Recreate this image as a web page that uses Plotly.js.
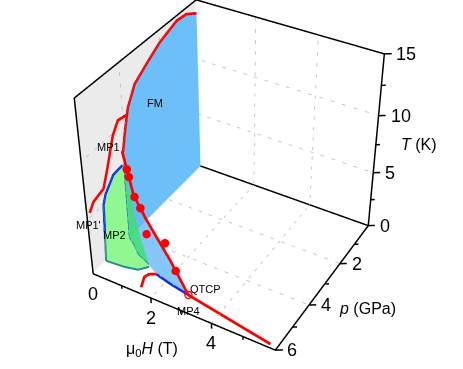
<!DOCTYPE html>
<html>
<head>
<meta charset="utf-8">
<script src="https://cdn.plot.ly/plotly-3.0.1.min.js"></script>
<style>html,body{margin:0;padding:0;background:#fff;overflow:hidden;width:463px;height:369px}
#myPlot{position:absolute;left:-262px;top:-291px}</style>
</head>
<body>
<div id="myPlot"></div>
<script>
const plot_w = 1000, plot_h = 924;
const hMax = 6, pMax = 6, tMax = 15;

// tick values
const hTicks = [0, 1, 2, 3, 4, 5];
const hMajor = [0, 2, 4];
const pTicks = [0, 1, 2, 3, 4, 5, 6];
const pMajor = [2, 4, 6];
const tTicks = [0, 2.5, 5, 7.5, 10, 12.5, 15];
const tMajor = [0, 5, 10, 15];
const hGrid = [2, 4], pGrid = [2, 4], tGrid = [5, 10];

// FM dome, on the H=0 wall
const fmP = [0, 0.56, 1.1, 2, 2.7, 3.34, 3.74, 3.95, 4.11];
const fmT = [13.9, 14.5, 14.6, 14, 13.2, 12.4, 11, 9.4, 7.9];

// MP1 branch, also on the wall
const mp1P = [3.76, 4.24, 4.52, 4.71, 4.91, 5.16, 5.66, 5.87];
const mp1T = [10.5, 10.7, 9.9, 8.8, 7.6, 6.3, 6.0, 5.4];

// first order wing: floor curve and top edge
const wingH = [0, 0.65, 1.18, 1.59, 2.2, 2.85];
const wingP = [4.15, 4.64, 4.86, 5.09, 5.24, 5.36];
const wingT = [7.9, 5.5, 4.3, 3.9, 2.3, 0];

// green part on the wall
const mp2P = [4.2, 4.66, 5.09, 5.22, 5.28, 5.35];
const mp2T = [6.8, 6.7, 5.7, 5, 2.65, 0];

// green part, floor and wing
const gOutH = [0, 0.6, 1.03, 1.24];
const gOutP = [5.35, 5.3, 5.2, 4.93];
const gInH = [0, 0.3, 0.65, 1.18];
const gInP = [4.15, 4.35, 4.64, 4.86];
const gInT = [6.8, 5, 3.3, 0];

// small red curve on the floor
const lowH = [1.52, 1.36, 1.41, 1.59];
const lowP = [5.77, 5.37, 5.2, 5.09];

// high field line
const highH = [2.85, 5.78];
const highP = [5.36, 5.87];

// measured points
const dotH = [0.26, 0.37, 0.68, 0.94, 1.2, 2.0, 2.4];
const dotP = [4.35, 4.43, 4.65, 4.76, 4.9, 5.16, 5.28];
const dotT = [6.94, 6.5, 5.4, 4.85, 3, 3.5, 1.6];

// text inside the box: text, H, p, T
const noteText = ["FM", "MP1", "MP1'", "MP2", "QTCP", "MP4"];
const noteH = [0, 0, 0, 0, 3.15, 3.2];
const noteP = [2.4, 4.78, 5.96, 4.83, 4.89, 5.9];
const noteT = [9.5, 9.3, 4.5, 1.5, 0, 0];

const font_name = "Liberation Sans";
const zeros = (a) => a.map(() => 0);
const red = "#ff0000", blue = "#0a2cf0", teal = "#2a8a9a";

function path(x, y, z, color, width, dash) {
    return {
        type: "scatter3d", mode: "lines", x: x, y: y, z: z,
        line: { color: color, width: width, dash: dash || "solid" },
        hoverinfo: "skip", showlegend: false
    };
}

// strip of triangles between two curves with the same number of points
function ribbon(x1, y1, z1, x2, y2, z2, color, opacity) {
    const n = x1.length, i = [], j = [], k = [];
    for (let m = 0; m < n - 1; m++) {
        i.push(m, m + 1);
        j.push(m + 1, n + m + 1);
        k.push(n + m, n + m);
    }
    return {
        type: "mesh3d", x: x1.concat(x2), y: y1.concat(y2), z: z1.concat(z2), i: i, j: j, k: k,
        color: color, opacity: opacity, flatshading: true, hoverinfo: "skip", showscale: false,
        lighting: { ambient: 1, diffuse: 0, specular: 0, roughness: 1, fresnel: 0 }
    };
}

// grid, dotted, built from the tick arrays
function gridLines() {
    const x = [], y = [], z = [];
    const add = (a, b, c, d, e, f) => { x.push(a, d, null); y.push(b, e, null); z.push(c, f, null); };
    hGrid.forEach(h => { add(h, 0, 0, h, pMax, 0); add(h, 0, 0, h, 0, tMax); });
    pGrid.forEach(p => { add(0, p, 0, hMax, p, 0); add(0, p, 0, 0, p, tMax); });
    tGrid.forEach(t => { add(0, 0, t, hMax, 0, t); add(0, 0, t, 0, pMax, t); });
    return path(x, y, z, "#b8b8b8", 1.5, "dot");
}

// tick marks: T and p ticks point right on the screen, H ticks point down
function tickLines() {
    const x = [], y = [], z = [];
    const add = (a, b, c, d, e, f) => { x.push(a, d, null); y.push(b, e, null); z.push(c, f, null); };
    tTicks.forEach(t => { const s = tMajor.includes(t) ? 1 : 0.6; add(hMax, 0, t, hMax + 0.17 * s, -0.11 * s, t); });
    pTicks.forEach(p => { const s = pMajor.includes(p) || p == 0 ? 1 : 0.6; add(hMax, p, 0, hMax + 0.17 * s, p - 0.11 * s, 0); });
    hTicks.forEach(h => { const s = hMajor.includes(h) ? 1 : 0.6; if (h > 0) add(h, pMax, 0, h, pMax, -0.5 * s); });
    return path(x, y, z, "#000", 3);
}

const edgeX = [0, hMax, hMax, hMax, null, 0, hMax, null, 0, 0, 0, null, 0, 0, hMax];
const edgeY = [pMax, pMax, 0, 0, null, 0, 0, null, pMax, pMax, 0, null, 0, 0, 0];
const edgeZ = [0, 0, 0, tMax, null, 0, 0, null, 0, tMax, tMax, null, tMax, tMax, tMax];

const traces = [
    ribbon([-0.03, -0.03], [0, pMax], [0, 0], [-0.03, -0.03], [0, pMax], [tMax, tMax], "#ebebeb", 1),
    gridLines(),
    ribbon(zeros(fmP), fmP, fmT, zeros(fmP), fmP, zeros(fmP), "#6cbff9", 1),
    ribbon(wingH, wingP, wingT, wingH, wingP, zeros(wingH), "#66b8fa", 0.8),
    ribbon(zeros(mp2P), mp2P, mp2T, zeros(mp2P), mp2P.map(() => 4.15), mp2T, "#90f890", 1),
    ribbon(gOutH, gOutP, zeros(gOutH), gInH, gInP, zeros(gInH), "#90f890", 1),
    ribbon(gInH, gInP, gInT, gInH, gInP, zeros(gInH), "#40e070", 0.85),
    path([0, 0], [4.15, 4.15], [6.8, 0], teal, 3),
    path(gInH, gInP, zeros(gInH), teal, 4),
    path(gOutH, gOutP, zeros(gOutH), teal, 4),
    path(mp2P.slice(3).map(() => 0), mp2P.slice(3), mp2T.slice(3), teal, 4),
    path(mp2P.slice(0, 5).map(() => 0), mp2P.slice(0, 5), mp2T.slice(0, 5), blue, 5),
    path(wingH.slice(3), wingP.slice(3), zeros(wingH.slice(3)), blue, 5),
    path(edgeX, edgeY, edgeZ, "#000", 3),
    path(zeros(mp1P), mp1P, mp1T, red, 5.5),
    path(zeros(fmP).concat(wingH), fmP.concat(wingP), fmT.concat(wingT), red, 5.5),
    path(lowH, lowP, zeros(lowH), red, 5.5),
    path(highH, highP, zeros(highH), red, 5.5),
    tickLines(),
    {
        type: "scatter3d", mode: "markers", x: dotH, y: dotP, z: dotT,
        marker: { color: red, size: 5 }, hoverinfo: "skip", showlegend: false
    },
    {
        type: "scatter3d", mode: "markers", x: [highH[0]], y: [highP[0]], z: [0],
        marker: { color: red, size: 4.5, symbol: "circle-open", line: { color: red, width: 2 } }, hoverinfo: "skip", showlegend: false
    }
];

function note(text, x, y, z, size, xs, ys, anchor) {
    return {
        x: x, y: y, z: z, text: text, showarrow: false,
        font: { family: font_name, size: size, color: "#000" },
        xanchor: anchor || "center", yanchor: "middle", xshift: xs, yshift: ys
    };
}

const notes = noteText.map((t, n) => note(t, noteH[n], noteP[n], noteT[n], 11, 0, 0));
hMajor.forEach(h => notes.push(note(String(h), h, pMax, 0, 18, 0, -20)));
pMajor.forEach(p => notes.push(note(String(p), hMax, p, 0, 18, 10, 0, "left")));
tMajor.forEach(t => notes.push(note(String(t), hMax, 0, t, 18, 10, 0, "left")));
notes.push(note("μ<sub>0</sub><i>H</i> (T)", 3, pMax, 0, 16, -29, -39));
notes.push(note("<i>p</i> (GPa)", hMax, 4, 0, 16, 58, -3));
notes.push(note("<i>T</i> (K)", hMax, 0, 7.5, 16, 43, 0));

const hiddenAxis = {
    visible: false, showgrid: false, zeroline: false, showspikes: false,
    showticklabels: false, showbackground: false, showline: false, title: { text: "" }
};

const layout = {
    width: plot_w, height: plot_h,
    margin: { l: 0, r: 0, t: 0, b: 0 },
    showlegend: false,
    paper_bgcolor: "rgba(0,0,0,0)",
    scene: {
        domain: { x: [0, 1], y: [0, 1] },
        aspectmode: "manual",
        aspectratio: { x: 1.22, y: 1.19, z: 1.206 },
        camera: {
            eye: { x: 2.295, y: -3.977, z: 3.538 },
            center: { x: 0, y: 0, z: 0 },
            up: { x: 0, y: 0, z: 1 }
        },
        xaxis: Object.assign({}, hiddenAxis, { range: [-0.2, 6.4] }),
        yaxis: Object.assign({}, hiddenAxis, { range: [6.2, -0.3] }),
        zaxis: Object.assign({}, hiddenAxis, { range: [-0.8, 15.2] }),
        annotations: notes
    }
};

Plotly.newPlot("myPlot", traces, layout, { displayModeBar: false });
</script>
</body>
</html>
